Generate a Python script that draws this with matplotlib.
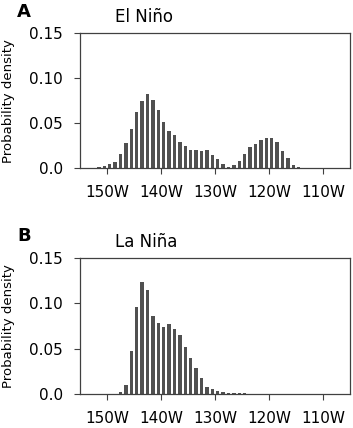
import matplotlib
matplotlib.use("Agg")
import matplotlib.pyplot as plt
import numpy as np

# Bin centres (degrees longitude, negative = West)
lon_el = np.arange(-151.5, -114.0, 1.0)
dens_el = [0.0015, 0.0026, 0.0050, 0.0067, 0.0160, 0.0280, 0.0440, 0.0626,
           0.0750, 0.0826, 0.0760, 0.0644, 0.0520, 0.0420, 0.0370, 0.0290,
           0.0245, 0.0205, 0.0205, 0.0188, 0.0198, 0.0148, 0.0104, 0.0048,
           0.0019, 0.0037, 0.0080, 0.0163, 0.0240, 0.0274, 0.0315, 0.0340,
           0.0340, 0.0293, 0.0193, 0.0110, 0.0037, 0.0010]

lon_la = np.arange(-147.5, -122.0, 1.0)
dens_la = [0.0018, 0.0099, 0.0470, 0.0965, 0.1240, 0.1150, 0.0860, 0.0780,
           0.0735, 0.0770, 0.0720, 0.0650, 0.0517, 0.0402, 0.0290, 0.0176,
           0.0080, 0.0050, 0.0030, 0.0018, 0.0012, 0.0010, 0.0008, 0.0006,
           0.0005, 0.0004]

xticks = [-150, -140, -130, -120, -110]
xticklabels = ["150W", "140W", "130W", "120W", "110W"]
yticks = [0.0, 0.05, 0.10, 0.15]
yticklabels = ["0.0", "0.05", "0.10", "0.15"]
titles = ["El Niño", "La Niña"]
panel_labels = ["A", "B"]

plt.rcParams['font.family'] = ['DejaVu Sans']

W, H = 353, 428
fig = plt.figure(figsize=(W / 100, H / 100), dpi=100)

# axes boxes in pixels: (left, top, right, bottom)
boxes = [(80, 33.3, 350, 168.3), (80, 258, 350, 394)]
data = [(lon_el, dens_el), (lon_la, dens_la)]
label_tops = [3.3, 227.3]
title_centers = [16.5, 241.5]

edge = '#404040'
for i in range(2):
    l, t, r, b = boxes[i]
    ax = fig.add_axes([l / W, 1 - b / H, (r - l) / W, (b - t) / H])
    x, y = data[i]
    ax.bar(x, y, width=0.6, color='#505050', edgecolor='none')
    ax.set_xlim(-155, -105)
    ax.set_ylim(0, 0.15)
    ax.set_xticks(xticks)
    ax.set_xticklabels(xticklabels)
    ax.set_yticks(yticks)
    ax.set_yticklabels(yticklabels)
    ax.tick_params(axis='both', length=4.3, width=0.8, color=edge,
                   labelsize=11, pad=8, labelcolor='black')
    for s in ax.spines.values():
        s.set_color(edge)
        s.set_linewidth(0.9)
    ax.set_ylabel("Probability density", fontsize=9.5)
    ax.yaxis.set_label_coords((15 - l) / (r - l), 0.5)
    fig.text(115 / W, 1 - title_centers[i] / H, titles[i], fontsize=12,
             ha='left', va='center')
    fig.text(17 / W, 1 - label_tops[i] / H, panel_labels[i], fontsize=13,
             fontweight='bold', ha='left', va='top')

fig.savefig("out.png", dpi=100)
